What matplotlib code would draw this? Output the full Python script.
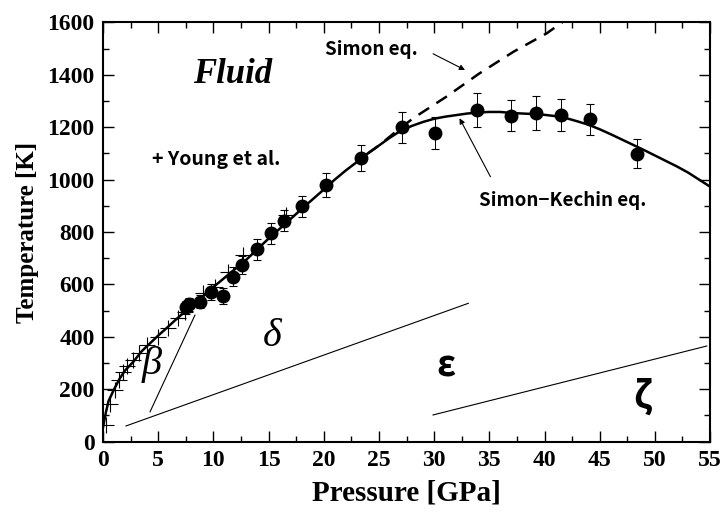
import numpy as np
import matplotlib.pyplot as plt
from matplotlib.ticker import MultipleLocator

# present work: melting points with error bars
p_exp = [7.5, 7.8, 8.8, 9.75, 10.85, 11.75, 12.56, 13.98, 15.2, 16.4, 18.05,
         20.2, 23.4, 27.1, 30.1, 33.9, 37.0, 39.2, 41.5, 44.1, 48.4]
t_exp = [512, 525, 534, 572, 556, 630, 674, 735, 795, 843, 899,
         979, 1081, 1199, 1177, 1266, 1244, 1253, 1247, 1230, 1098]
t_err = [25, 25, 25, 30, 30, 35, 35, 40, 40, 40, 40,
         45, 50, 60, 60, 65, 60, 65, 60, 60, 55]

# Young et al.
p_young = [0.3, 0.65, 1.1, 1.45, 1.85, 2.2, 2.75, 3.3, 3.95, 5.0, 5.9, 6.8,
           7.4, 9.1, 10.1, 11.35, 12.7, 16.6]
t_young = [65, 145, 197, 235, 267, 288, 312, 340, 369, 401, 433, 471,
           496, 566, 591, 649, 712, 865]

# Simon-Kechin curve
p_sk = [0, 0.25, 0.5, 1.0, 1.5, 2.0, 2.75, 3.5, 4.25, 5.0, 5.75, 6.5, 7.25,
        8, 9, 10, 11, 12, 13, 14, 15, 16, 17, 18, 19, 20, 21, 22, 23, 24,
        25, 26, 27, 28, 29, 30, 31, 32, 33, 34, 35, 36, 37, 38, 39, 40, 41,
        42, 43, 44, 45, 46, 47, 48, 49, 50, 51, 52, 53, 54, 55]
t_sk = [55, 110, 155, 200, 240, 272, 305, 345, 375, 405, 433, 462, 490,
        515, 552, 590, 625, 660, 695, 735, 775, 812, 850, 888, 925, 962,
        1000, 1035, 1067, 1100, 1130, 1160, 1187, 1205, 1220, 1232, 1240,
        1246, 1252, 1256, 1258, 1258, 1254, 1252, 1250, 1247, 1242, 1234,
        1222, 1209, 1192, 1173, 1153, 1133, 1113, 1092, 1071, 1050, 1027,
        1000, 973]

# Simon curve (dashed, where it leaves the Simon-Kechin curve)
p_simon = [24, 25, 26.3, 28.1, 31.1, 34.1, 37.2, 40.2, 41.6, 42]
t_simon = [1100, 1130, 1175, 1234, 1316, 1405, 1488, 1558, 1600, 1612]

# phase boundaries
b_bd = ([4.26, 8.33], [114, 483])
b_de = ([2.08, 33.1], [60, 528])
b_ez = ([29.9, 54.7], [102, 365])

plt.rcParams['font.family'] = ['Liberation Serif', 'DejaVu Serif']
sans = ['Noto Sans CJK JP', 'DejaVu Sans']

fig = plt.figure(figsize=(7.23, 5.13), dpi=100)
ax = fig.add_axes([0.1425, 0.139, 0.8396, 0.8175])

ax.plot(p_sk, t_sk, color='black', lw=1.8, zorder=3)
ax.plot(p_simon, t_simon, color='black', lw=1.8, ls=(0, (5, 3.5)), zorder=3)

ax.errorbar(p_exp, t_exp, yerr=t_err, fmt='o', color='black', ms=9,
            elinewidth=0.7, capsize=3, capthick=0.8, zorder=4)
ax.plot(p_young, t_young, '+', color='black', ms=11, mew=0.8, zorder=2)

for bx, by in (b_bd, b_de, b_ez):
    ax.plot(bx, by, color='black', lw=0.8)

ax.text(11.7, 1400, 'Fluid', fontsize=25, fontweight='bold', style='italic',
        ha='center', va='center')
ax.text(4.4, 1078, '+ Young et al.', fontsize=14, family=sans,
        fontweight='bold', va='center')
ax.text(20.1, 1497, 'Simon eq.', fontsize=13.5, family=sans,
        fontweight='bold', va='center')
ax.text(34.1, 922, 'Simon\u2212Kechin eq.', fontsize=13.5, family=sans,
        fontweight='bold', va='center')

ax.annotate('', xy=(32.8, 1418), xytext=(29.9, 1480),
            arrowprops=dict(arrowstyle='-|>', color='black', lw=0.8,
                            mutation_scale=8, shrinkA=0, shrinkB=0))
ax.annotate('', xy=(32.3, 1234), xytext=(35.1, 1011),
            arrowprops=dict(arrowstyle='-|>', color='black', lw=0.8,
                            mutation_scale=8, shrinkA=0, shrinkB=0))

ax.text(4.4, 293, '\u03b2', fontsize=29, style='italic', ha='center', va='center')
ax.text(15.3, 400, '\u03b4', fontsize=29, style='italic', ha='center', va='center')
ax.text(31.1, 290, '\u03b5', fontsize=26, family=sans, fontweight='bold',
        ha='center', va='center')
ax.text(48.9, 172, '\u03b6', fontsize=26, family=sans, fontweight='bold',
        ha='center', va='center')

ax.set_xlim(0, 55)
ax.set_ylim(0, 1600)
ax.xaxis.set_major_locator(MultipleLocator(5))
ax.xaxis.set_minor_locator(MultipleLocator(2.5))
ax.yaxis.set_major_locator(MultipleLocator(200))
ax.yaxis.set_minor_locator(MultipleLocator(100))
ax.tick_params(which='both', direction='in', top=True, right=True, width=1)
ax.tick_params(which='major', length=8, labelsize=17, pad=6)
ax.tick_params(which='minor', length=4)
for lab in ax.get_xticklabels() + ax.get_yticklabels():
    lab.set_fontweight('bold')
for s in ax.spines.values():
    s.set_linewidth(1.5)

ax.set_xlabel('Pressure [GPa]', fontsize=21, fontweight='bold', labelpad=6)
ax.set_ylabel('Temperature [K]', fontsize=18, fontweight='bold', labelpad=6)

fig.savefig('out.png', dpi=100)
